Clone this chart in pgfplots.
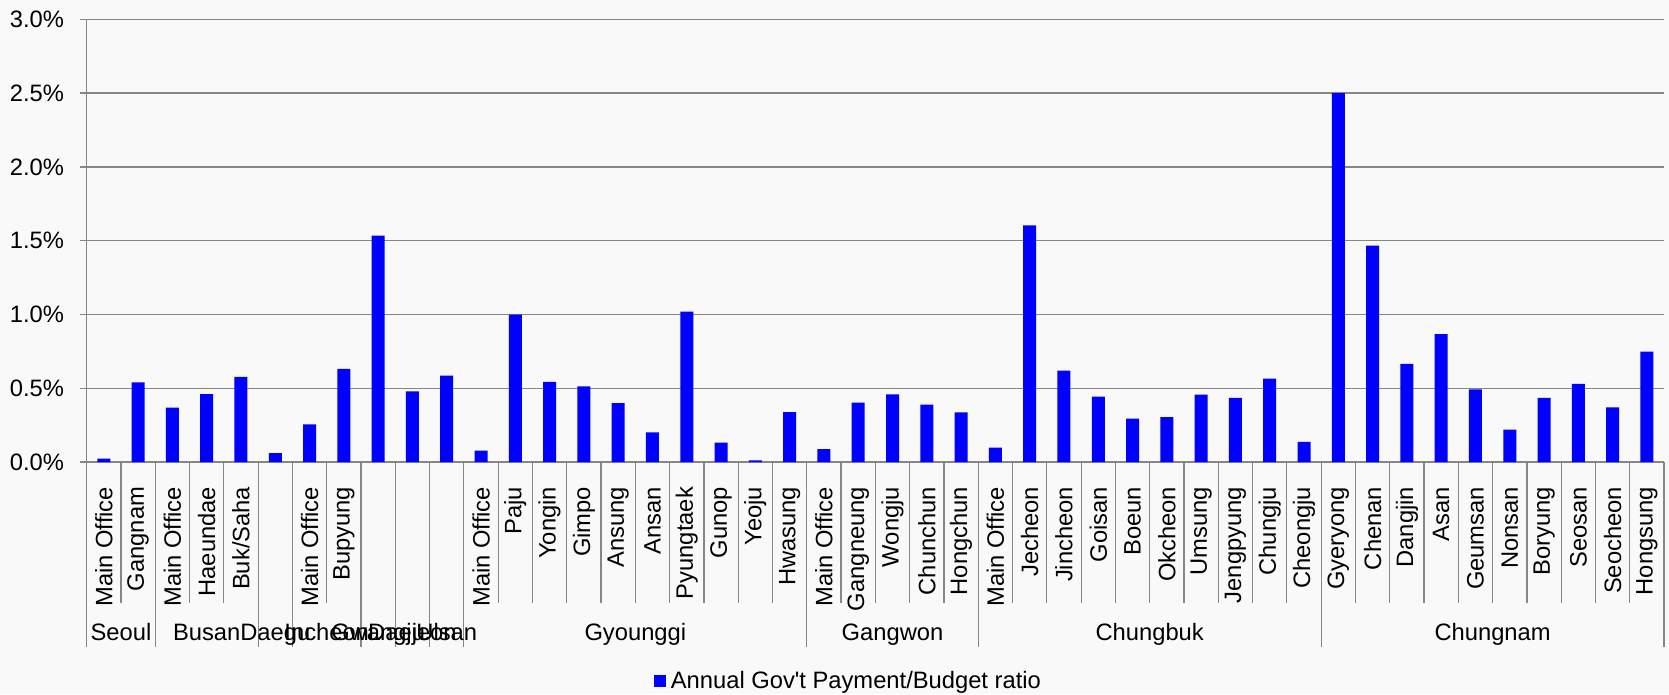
\documentclass[border=0pt]{standalone}
\usepackage{fontspec}
\setmainfont{Liberation Sans}
\usepackage{pgfplots}
\pgfplotsset{compat=1.18}

\definecolor{bgcol}{RGB}{249,249,249}
\definecolor{linecol}{RGB}{134,134,134}
\definecolor{barblue}{RGB}{0,0,255}

\newcommand{\chartfont}{\fontsize{17.8}{21}\selectfont}

\begin{document}
\begin{tikzpicture}[x=1pt,y=1pt,font=\chartfont]
% page background and fixed page size
\fill[bgcol] (-65,-174) rectangle (1186.7,346.5);
\useasboundingbox (-65,-174) rectangle (1186.7,346.5);
\begin{axis}[
  at={(0,0)}, anchor=south west,
  width=1183pt, height=332pt, scale only axis,
  clip=false,
  xmin=-0.5, xmax=45.5,
  ymin=0, ymax=3,
  axis lines*=left,
  axis line style={linecol, line width=1.05pt},
  ybar, bar width=9.75pt,
  ytick={0,0.5,1,1.5,2,2.5,3},
  yticklabels={0.0\%,0.5\%,1.0\%,1.5\%,2.0\%,2.5\%,3.0\%},
  ymajorgrids,
  grid style={linecol, line width=1.05pt},
  tick align=outside,
  major tick length=5pt,
  ytick style={linecol, line width=1.05pt},
  xtick style={draw=none},
  tick label style={font=\chartfont, text=black},
  yticklabel style={anchor=east, inner sep=0pt, xshift=-11.8pt},
  xtick={0,...,45},
  xticklabels={Main Office, Gangnam,
    Main Office, Haeundae, Buk/Saha,
    {},
    Main Office, Bupyung,
    {}, {}, {},
    Main Office, Paju, Yongin, Gimpo, Ansung, Ansan, Pyungtaek, Gunop, Yeoju, Hwasung,
    Main Office, Gangneung, Wongju, Chunchun, Hongchun,
    Main Office, Jecheon, Jincheon, Goisan, Boeun, Okcheon, Umsung, Jengpyung, Chungju, Cheongju,
    Gyeryong, Chenan, Dangjin, Asan, Geumsan, Nonsan, Boryung, Seosan, Seocheon, Hongsung},
  xticklabel style={yshift=-13.5pt, rotate=90, anchor=east, inner sep=0pt},
  legend style={at={(axis description cs:0.3592,-0.4954)}, anchor=west,
    draw=none, fill=none, font=\chartfont, inner sep=0pt,
    nodes={inner sep=0pt}},
  legend image code/.code={%
    \fill[barblue] (0pt,-4.5pt) rectangle (9pt,4.5pt);
    \path (13pt,0pt);},
]
\addplot[fill=barblue, draw=none] coordinates {
  (0,0.023) (1,0.540)
  (2,0.369) (3,0.461) (4,0.577)
  (5,0.061)
  (6,0.255) (7,0.631)
  (8,1.535) (9,0.479) (10,0.586)
  (11,0.077) (12,0.999) (13,0.543) (14,0.513) (15,0.400)
  (16,0.201) (17,1.020) (18,0.131) (19,0.011) (20,0.339)
  (21,0.088) (22,0.402) (23,0.459) (24,0.389) (25,0.337)
  (26,0.097) (27,1.603) (28,0.619) (29,0.443) (30,0.294)
  (31,0.305) (32,0.457) (33,0.434) (34,0.565) (35,0.136)
  (36,2.500) (37,1.467) (38,0.665) (39,0.866) (40,0.493)
  (41,0.219) (42,0.434) (43,0.529) (44,0.371) (45,0.748)
};
\addlegendentry{Annual Gov\textquotesingle t Payment/Budget ratio}

% separators between categories inside a region
\pgfplotsinvokeforeach{0.5,2.5,3.5,6.5,11.5,12.5,13.5,14.5,15.5,16.5,17.5,18.5,19.5,
  21.5,22.5,23.5,24.5,26.5,27.5,28.5,29.5,30.5,31.5,32.5,33.5,34.5,
  36.5,37.5,38.5,39.5,40.5,41.5,42.5,43.5,44.5}{
  \draw[linecol, line width=0.9pt] (axis cs:#1,0) -- ++(0pt,-105.75pt);
}
% separators between regions
\pgfplotsinvokeforeach{-0.5,1.5,4.5,5.5,7.5,8.5,9.5,10.5,20.5,25.5,35.5,45.5}{
  \draw[linecol, line width=0.9pt] (axis cs:#1,0) -- ++(0pt,-138.5pt);
}
% region names
\node[anchor=base, yshift=-133.5pt] at (axis cs:0.5,0) {Seoul};
\node[anchor=base, yshift=-133.5pt] at (axis cs:3,0) {Busan};
\node[anchor=base, yshift=-133.5pt] at (axis cs:5,0) {Daegu};
\node[anchor=base, yshift=-133.5pt] at (axis cs:6.5,0) {Incheon};
\node[anchor=base, yshift=-133.5pt] at (axis cs:8,0) {Gwangju};
\node[anchor=base, yshift=-133.5pt] at (axis cs:9,0) {Daejeon};
\node[anchor=base, yshift=-133.5pt] at (axis cs:10,0) {Ulsan};
\node[anchor=base, yshift=-133.5pt] at (axis cs:15.5,0) {Gyounggi};
\node[anchor=base, yshift=-133.5pt] at (axis cs:23,0) {Gangwon};
\node[anchor=base, yshift=-133.5pt] at (axis cs:30.5,0) {Chungbuk};
\node[anchor=base, yshift=-133.5pt] at (axis cs:40.5,0) {Chungnam};
\end{axis}
\end{tikzpicture}
\end{document}
